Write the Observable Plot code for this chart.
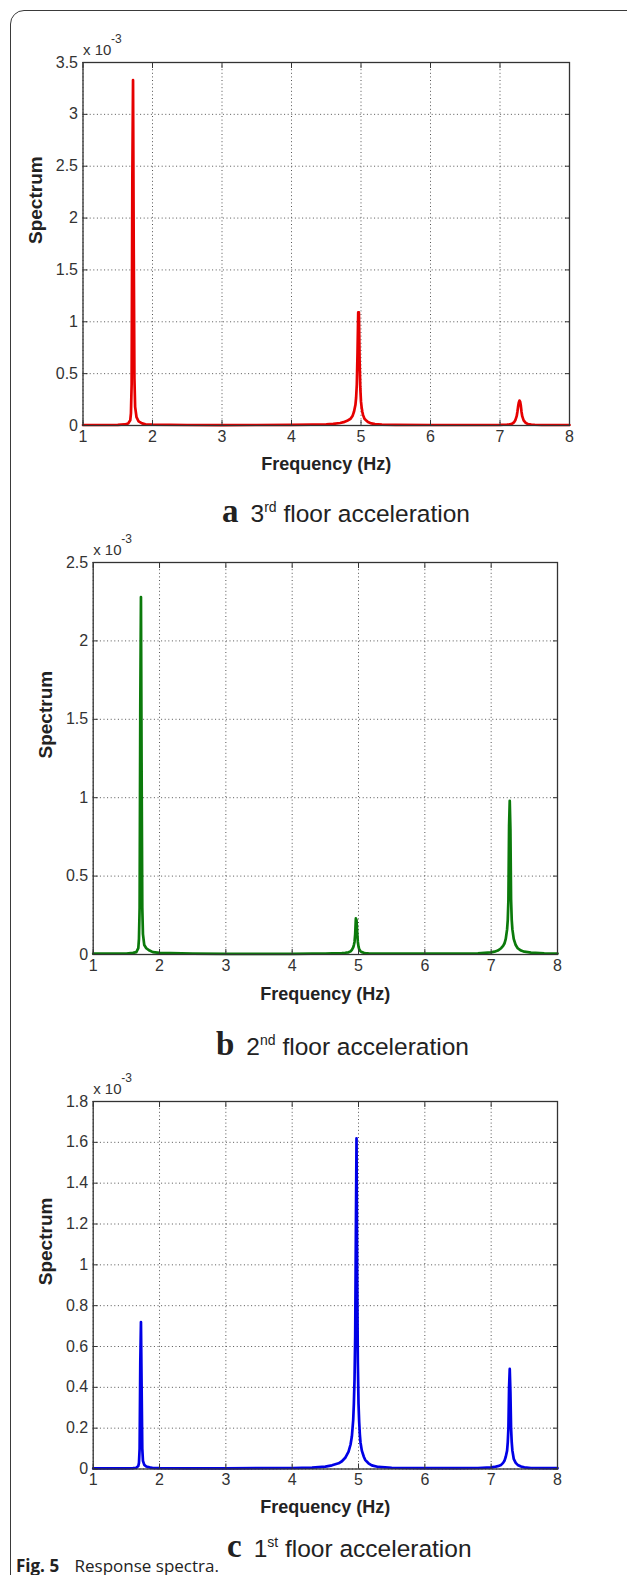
<!DOCTYPE html>
<html><head><meta charset="utf-8">
<script src="https://cdn.jsdelivr.net/npm/d3@7"></script>
<script src="https://cdn.jsdelivr.net/npm/@observablehq/plot@0.6"></script>
<style>
html,body{margin:0;padding:0;background:#fff;}
body{width:627px;height:1575px;overflow:hidden;position:relative;font-family:"Liberation Sans",Arial,sans-serif;}
#frame{position:absolute;left:10px;top:10px;width:680px;height:1640px;border:1.5px solid #3a3a3a;border-radius:14px;box-sizing:border-box;}
.panel{position:absolute;left:0;}
.cap{position:absolute;white-space:nowrap;line-height:30px;font-size:24.5px;color:#222;font-family:"Liberation Sans",Arial,sans-serif;}
.cap .lt{font-family:"Liberation Serif","Times New Roman",serif;font-weight:bold;font-size:33px;margin-right:12px;line-height:1;}
.cap sup{font-size:14px;vertical-align:10px;line-height:0;}
#fig{position:absolute;left:16px;white-space:nowrap;font-family:"Open Sans","Noto Sans",sans-serif;font-size:17px;color:#222;line-height:20px;}
#fig b{font-weight:bold;margin-right:11px;}
</style></head>
<body>
<div id="frame"></div>
<div id="root"></div>
<script>
// Frequency grid (Hz) shared by the three spectra
const freq = [
  1.00, 1.30, 1.50, 1.60, 1.65, 1.68, 1.69, 1.70, 1.71, 1.72,
  1.73, 1.74, 1.75, 1.77, 1.80, 1.85, 1.90, 2.00, 2.50, 3.00,
  3.50, 4.00, 4.30, 4.50, 4.60, 4.70, 4.75, 4.80, 4.85, 4.88,
  4.90, 4.92, 4.93, 4.94, 4.95, 4.96, 4.97, 4.98, 4.99, 5.00,
  5.01, 5.02, 5.03, 5.05, 5.08, 5.10, 5.15, 5.20, 5.30, 5.50,
  6.00, 6.50, 6.80, 7.00, 7.05, 7.10, 7.15, 7.18, 7.20, 7.22,
  7.24, 7.25, 7.26, 7.27, 7.28, 7.29, 7.30, 7.31, 7.32, 7.34,
  7.37, 7.40, 7.45, 7.50, 7.60, 7.80, 8.00
];
// Spectrum values (x 10^-3)
const spec3rd = [
  0.005, 0.005, 0.006, 0.010, 0.020, 0.050, 0.120, 0.400, 2.380, 3.330,
  1.700, 0.450, 0.180, 0.080, 0.040, 0.020, 0.012, 0.008, 0.005, 0.004,
  0.005, 0.006, 0.008, 0.012, 0.016, 0.024, 0.032, 0.045, 0.065, 0.095,
  0.135, 0.200, 0.270, 0.400, 0.700, 1.090, 1.090, 0.620, 0.360, 0.230,
  0.170, 0.130, 0.100, 0.065, 0.045, 0.033, 0.020, 0.013, 0.008, 0.006,
  0.005, 0.005, 0.005, 0.006, 0.007, 0.009, 0.012, 0.020, 0.030, 0.050,
  0.090, 0.130, 0.180, 0.220, 0.240, 0.230, 0.190, 0.130, 0.090, 0.050,
  0.025, 0.014, 0.009, 0.007, 0.005, 0.005, 0.005
];
const spec2nd = [
  0.005, 0.005, 0.006, 0.010, 0.015, 0.040, 0.100, 0.300, 1.580, 2.280,
  1.170, 0.300, 0.130, 0.060, 0.040, 0.025, 0.015, 0.010, 0.005, 0.004,
  0.004, 0.004, 0.005, 0.006, 0.007, 0.008, 0.009, 0.011, 0.014, 0.020,
  0.030, 0.045, 0.060, 0.080, 0.130, 0.230, 0.220, 0.140, 0.080, 0.050,
  0.035, 0.027, 0.020, 0.015, 0.011, 0.009, 0.007, 0.006, 0.005, 0.005,
  0.005, 0.006, 0.008, 0.014, 0.018, 0.025, 0.040, 0.055, 0.070, 0.100,
  0.160, 0.220, 0.350, 0.820, 0.980, 0.800, 0.350, 0.220, 0.160, 0.100,
  0.060, 0.040, 0.025, 0.018, 0.012, 0.008, 0.006
];
const spec1st = [
  0.003, 0.003, 0.003, 0.004, 0.006, 0.015, 0.030, 0.100, 0.520, 0.720,
  0.400, 0.100, 0.040, 0.020, 0.012, 0.008, 0.005, 0.004, 0.003, 0.003,
  0.004, 0.005, 0.007, 0.012, 0.018, 0.028, 0.038, 0.055, 0.085, 0.120,
  0.160, 0.240, 0.320, 0.440, 0.650, 1.150, 1.620, 0.950, 0.520, 0.320,
  0.230, 0.170, 0.130, 0.090, 0.060, 0.045, 0.028, 0.018, 0.010, 0.006,
  0.004, 0.004, 0.005, 0.008, 0.010, 0.014, 0.020, 0.030, 0.040, 0.060,
  0.090, 0.130, 0.200, 0.400, 0.490, 0.380, 0.200, 0.130, 0.090, 0.050,
  0.030, 0.020, 0.012, 0.008, 0.005, 0.004, 0.004
];
// Tick labels
const xTicks = [1, 2, 3, 4, 5, 6, 7, 8];
const yTicks3rd = [0, 0.5, 1, 1.5, 2, 2.5, 3, 3.5];
const yTicks2nd = [0, 0.5, 1, 1.5, 2, 2.5];
const yTicks1st = [0, 0.2, 0.4, 0.6, 0.8, 1, 1.2, 1.4, 1.6, 1.8];
const letters = ["a", "b", "c"];
const ordinals = [["3", "rd"], ["2", "nd"], ["1", "st"]];
const captionText = "floor acceleration";
const xLabel = "Frequency (Hz)";
const yLabel = "Spectrum";
const exponentText = ["x 10", "-3"];
const colors = ["#e60000", "#0b7a0b", "#0000e6"];

const series = [spec3rd, spec2nd, spec1st];
const yTickSets = [yTicks3rd, yTicks2nd, yTicks1st];

// layout (pixels)
const layout = [
  {left: 82.5, right: 569, top: 62, bottom: 425, xl: 38.5, cap: 510, capLeft: 222},
  {left: 92.7, right: 557, top: 562, bottom: 954, xl: 40, cap: 1043, capLeft: 216},
  {left: 92.7, right: 557, top: 1101, bottom: 1468.5, xl: 38, cap: 1545, capLeft: 227}
];
const MT = 45, MB = 60, W = 627;
const fmt = d => String(+d.toFixed(2));
const root = document.getElementById("root");

series.forEach((vals, i) => {
  const L = layout[i];
  const yt = yTickSets[i];
  const data = freq.map((f, k) => ({f, v: vals[k]}));
  const gridStyle = {stroke: "#555", strokeOpacity: 1, strokeWidth: 1, strokeDasharray: "1,2.6"};
  const chart = Plot.plot({
    width: W,
    height: (L.bottom - L.top) + MT + MB,
    marginLeft: L.left, marginRight: W - L.right, marginTop: MT, marginBottom: MB,
    style: {fontFamily: "'Liberation Sans', Arial, sans-serif", color: "#333", background: "transparent", overflow: "visible"},
    x: {domain: [1, 8]},
    y: {domain: [0, yt[yt.length - 1]]},
    marks: [
      Plot.gridX(xTicks, gridStyle),
      Plot.gridY(yt, gridStyle),
      Plot.line(data, {x: "f", y: "v", stroke: colors[i], strokeWidth: 2.7, curve: "linear"}),
      Plot.frame({stroke: "#333", strokeWidth: 1.3}),
      Plot.axisX(xTicks, {anchor: "bottom", tickSize: 0, tickPadding: 5, fontSize: 16, tickFormat: fmt, label: null}),
      Plot.axisY(yt, {anchor: "left", tickSize: 0, tickPadding: 5, fontSize: 16, tickFormat: fmt, label: null}),
      Plot.axisX(xTicks, {anchor: "bottom", tickSize: -5, tickFormat: () => "", label: null, stroke: "#333"}),
      Plot.axisX(xTicks, {anchor: "top", tickSize: -5, tickFormat: () => "", label: null, stroke: "#333"}),
      Plot.axisY(yt, {anchor: "left", tickSize: -5, tickFormat: () => "", label: null, stroke: "#333"}),
      Plot.axisY(yt, {anchor: "right", tickSize: -5, tickFormat: () => "", label: null, stroke: "#333"}),
      Plot.text([yLabel], {text: d => d, frameAnchor: "left", rotate: -90, dx: -47, fontWeight: "bold", fontSize: 19, fill: "#222"}),
      Plot.text([xLabel], {text: d => d, frameAnchor: "bottom", lineAnchor: "middle", dy: L.xl, fontWeight: "bold", fontSize: 18, fill: "#222"}),
      Plot.text([exponentText[0]], {text: d => d, frameAnchor: "top-left", textAnchor: "start", lineAnchor: "middle", dy: -12, fontSize: 15, fill: "#333"}),
      Plot.text([exponentText[1]], {text: d => d, frameAnchor: "top-left", textAnchor: "start", lineAnchor: "middle", dx: 28, dy: -23, fontSize: 12, fill: "#333"})
    ]
  });
  const wrap = document.createElement("div");
  wrap.className = "panel";
  wrap.style.top = (L.top - MT) + "px";
  wrap.appendChild(chart);
  root.appendChild(wrap);

  const cap = document.createElement("div");
  cap.className = "cap";
  cap.style.left = L.capLeft + "px";
  cap.style.top = (L.cap - 15) + "px";
  cap.innerHTML = `<span class="lt">${letters[i]}</span>${ordinals[i][0]}<sup>${ordinals[i][1]}</sup> ${captionText}`;
  root.appendChild(cap);
});

const fig = document.createElement("div");
fig.id = "fig";
fig.style.top = (1566 - 10) + "px";
fig.innerHTML = "<b>Fig. 5</b> Response spectra.";
root.appendChild(fig);
</script>
</body></html>
